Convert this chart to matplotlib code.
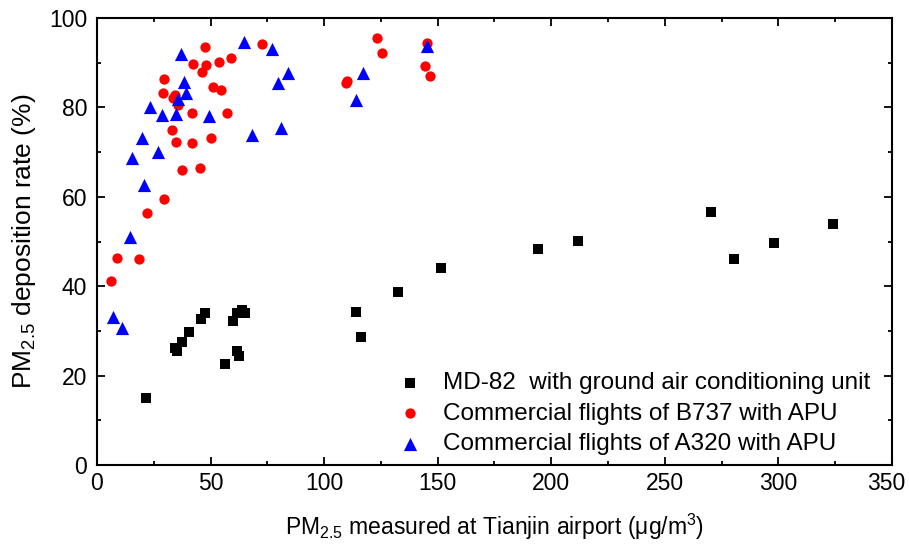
import numpy as np
import matplotlib
matplotlib.use("Agg")
import matplotlib.pyplot as plt
from matplotlib.ticker import MultipleLocator
from matplotlib.transforms import ScaledTranslation

plt.rcParams['font.family'] = ['Liberation Sans', 'DejaVu Sans']
plt.rcParams['mathtext.fontset'] = 'custom'
plt.rcParams['mathtext.rm'] = 'Liberation Sans'
plt.rcParams['mathtext.it'] = 'Liberation Sans:italic'

# MD-82 with ground air conditioning unit
md82_x = [21.7, 34.3, 35.1, 37.6, 40.6, 45.6, 47.6, 60.0, 61.5, 63.7, 65.2, 56.4,
          61.5, 62.7, 114.0, 116.2, 132.5, 151.6, 194.2, 211.8, 270.5, 280.3, 297.9, 324.0]
md82_y = [15.1, 26.2, 25.6, 27.6, 29.8, 32.6, 33.9, 32.2, 34.1, 34.7, 33.9, 22.6,
          25.5, 24.4, 34.3, 28.7, 38.7, 44.1, 48.3, 50.1, 56.7, 46.1, 49.7, 53.9]

# commercial flights of B737 with APU
b737_x = [47.6, 72.8, 42.3, 48.1, 46.4, 53.9, 59.1, 29.5, 29.2, 34.3, 33.6, 35.8,
          51.2, 54.5, 41.8, 57.4, 33.2, 34.6, 42.0, 50.2, 37.4, 45.4, 29.5, 21.9,
          8.7, 18.6, 6.0, 123.4, 125.6, 145.2, 144.6, 146.4, 110.2, 109.6]
b737_y = [93.5, 94.1, 89.6, 89.5, 88.0, 90.1, 91.1, 86.3, 83.2, 82.8, 82.2, 80.5,
          84.6, 84.0, 78.7, 78.7, 75.0, 72.2, 72.0, 73.2, 66.0, 66.4, 59.4, 56.4,
          46.4, 46.0, 41.2, 95.5, 92.1, 94.3, 89.3, 87.1, 86.0, 85.4]

# commercial flights of A320 with APU
a320_x = [37.0, 64.7, 76.9, 84.0, 79.6, 81.0, 68.1, 38.4, 39.3, 35.8, 23.2, 28.5,
          34.8, 49.3, 19.6, 15.6, 27.0, 20.7, 14.5, 7.2, 11.1, 117.0, 113.9, 145.2]
a320_y = [91.9, 94.6, 93.0, 87.6, 85.4, 75.4, 73.8, 85.7, 83.3, 81.9, 80.0, 78.4,
          78.6, 78.1, 73.1, 68.6, 70.1, 62.7, 50.9, 33.0, 30.6, 87.8, 81.7, 93.8]

labels = ["MD-82  with ground air conditioning unit",
          "Commercial flights of B737 with APU",
          "Commercial flights of A320 with APU"]

x_ticks = [0, 50, 100, 150, 200, 250, 300, 350]
y_ticks = [0, 20, 40, 60, 80, 100]

FS = 16.5

fig = plt.figure(figsize=(9.09, 5.52), dpi=100)
ax = fig.add_axes([0.1067, 0.1576, 0.8746, 0.8098])

ax.scatter(md82_x, md82_y, marker='s', s=7.2**2, color='black', linewidths=0, label=labels[0], zorder=3)
ax.scatter(b737_x, b737_y, marker='o', s=7.4**2, color='#ff0000', linewidths=0, label=labels[1], zorder=3)
ax.scatter(a320_x, a320_y, marker='^', s=9.5**2, color='#0000ff', linewidths=0, label=labels[2], zorder=4)

ax.set_xlim(0, 350)
ax.set_ylim(0, 100)
ax.set_xticks(x_ticks)
ax.set_yticks(y_ticks)
ax.xaxis.set_minor_locator(MultipleLocator(25))
ax.yaxis.set_minor_locator(MultipleLocator(10))
ax.tick_params(which='both', direction='in', top=True, right=True, width=1.3, labelsize=FS)
ax.tick_params(axis='x', pad=5)
ax.tick_params(axis='y', pad=7)
ax.tick_params(which='major', length=6)
ax.tick_params(which='minor', length=3)
for sp in ax.spines.values():
    sp.set_linewidth(1.5)

# nudge the 350 label left so it stays inside the image
last = ax.xaxis.get_major_ticks()[len(x_ticks) - 1].label1
last.set_transform(last.get_transform() + ScaledTranslation(-6 / 100, 0, fig.dpi_scale_trans))

ax.set_xlabel("PM$_{2.5}$ measured at Tianjin airport (μg/m$^3$)", fontsize=FS, labelpad=12)
ax.set_ylabel("PM$_{2.5}$ deposition rate (%)", fontsize=19, labelpad=8)

ax.legend(loc='upper left', bbox_to_anchor=(0.365, 0.23), frameon=False, fontsize=17.5,
          handlelength=1.1, handletextpad=0.8, labelspacing=0.36, borderaxespad=0)

fig.savefig("out.png", dpi=100)
